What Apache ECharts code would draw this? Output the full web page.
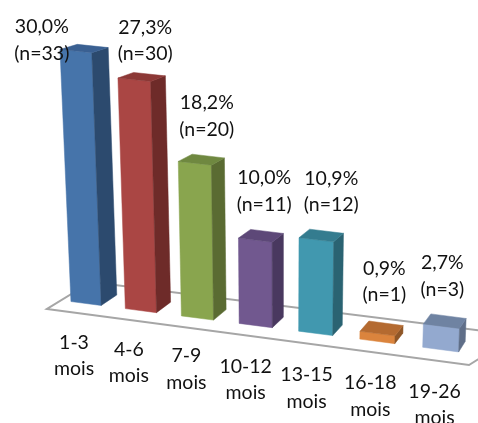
<!DOCTYPE html>
<html>
<head>
<meta charset="utf-8">
<style>html,body{margin:0;padding:0;background:#fff}#chart{width:478px;height:423px}</style>
<script src="https://cdn.jsdelivr.net/npm/echarts@6/dist/echarts.min.js"></script>
</head>
<body>
<div id="chart"></div>
<script>
const categories = ['1-3', '4-6', '7-9', '10-12', '13-15', '16-18', '19-26'];
const percents = [30.0, 27.3, 18.2, 10.0, 10.9, 0.9, 2.7];
const counts = [33, 30, 20, 11, 12, 1, 3];

// Front, side and top shades of each column
const frontColors = ['#4674AA', '#AA4644', '#89A54E', '#71588F', '#4198AF', '#DB843D', '#93A9CF'];
const sideColors = ['#2C4A6E', '#6E2B29', '#5A6B32', '#49385F', '#2A6372', '#8F5627', '#5F6E88'];
const topColors = ['#3A6092', '#8C3836', '#6F8840', '#5D4878', '#347C8F', '#B46A30', '#6F83A2'];

// Hand placement of the value captions relative to each column's top
const captionShift = [[-34, -11], [11, -39], [12, -47], [9, -49], [15, -48], [7, -52], [1, -50]];
// Hand placement of the category captions relative to each column's foot
const axisCaptionShift = [[-12, 52], [-12, 52], [-11, 51], [-10, 54], [-9, 55], [-7, 55], [-6, 55]];

// Flat plot area: one band per category, 8.5 px per percentage point
const BAND = 59.2, ORIGIN_X = 86, ORIGIN_Y = 303.5, PX_PER_UNIT = 8.5, Y_MAX = 35;
const HALF_BAR = 0.28;

// Floor of the 3D box
const floorFrame = [[47, 309], [469, 365], [517, 335], [91, 282]];

// Projects a point of the flat plot area into the tilted 3D view.
// depth 0 is the front plane of the columns, depth 1 their back plane.
function project(px, py, depth) {
  const u = (px - ORIGIN_X) / BAND;
  const h = ORIGIN_Y - py;
  const v = h / PX_PER_UNIT;
  const fx = ORIGIN_X + 54 * u + 0.85 * u * u;
  const fy = ORIGIN_Y + 0.13 * (fx - ORIGIN_X);
  const bx = fx + depth * (16 - 1.5 * u);
  return [
    bx + (bx - 280) * 0.00175 * v,
    fy + depth * (-10.5 + 0.18 * v) - h * (0.99 + 0.005 * u)
  ];
}

function face(points, fill) {
  return { type: 'polygon', shape: { points }, style: { fill, stroke: fill, lineWidth: 0.5 } };
}

function renderColumn(params, api) {
  const i = api.value(0);
  const value = api.value(1);
  const half = api.size([1, 0])[0] * HALF_BAR;
  const foot = api.coord([i, 0]);
  const head = api.coord([i, value]);
  const l = foot[0] - half, r = foot[0] + half;

  const frontBL = project(l, foot[1], 0), frontBR = project(r, foot[1], 0);
  const frontTL = project(l, head[1], 0), frontTR = project(r, head[1], 0);
  const backBR = project(r, foot[1], 1);
  const backTR = project(r, head[1], 1), backTL = project(l, head[1], 1);

  const anchorTop = project(foot[0], head[1], 0);
  const anchorFoot = project(foot[0], foot[1], 0);
  const textStyle = {
    fontFamily: 'Lato', fontSize: 19.5, fill: '#111111',
    align: 'center', verticalAlign: 'middle', lineHeight: 26.5
  };
  const caption = percents[i].toFixed(1).replace('.', ',') + '%\n(n=' + counts[i] + ')';

  return {
    type: 'group',
    children: [
      face([frontTL, frontTR, frontBR, frontBL], frontColors[i]),
      face([frontTR, backTR, backBR, frontBR], sideColors[i]),
      face([frontTL, backTL, backTR, frontTR], topColors[i]),
      {
        type: 'text', z2: 10,
        style: Object.assign({
          text: caption,
          x: anchorTop[0] + captionShift[i][0],
          y: anchorTop[1] + captionShift[i][1]
        }, textStyle)
      },
      {
        type: 'text', z2: 10,
        style: Object.assign({
          text: categories[i] + '\nmois',
          x: anchorFoot[0] + axisCaptionShift[i][0],
          y: anchorFoot[1] + axisCaptionShift[i][1]
        }, textStyle)
      }
    ]
  };
}

const chart = echarts.init(document.getElementById('chart'), null, { renderer: 'canvas' });
chart.setOption({
  animation: false,
  backgroundColor: '#ffffff',
  grid: {
    left: ORIGIN_X - BAND / 2,
    width: BAND * categories.length,
    top: ORIGIN_Y - PX_PER_UNIT * Y_MAX,
    height: PX_PER_UNIT * Y_MAX
  },
  xAxis: { type: 'category', data: categories, show: false },
  yAxis: { type: 'value', min: 0, max: Y_MAX, show: false },
  graphic: [{
    type: 'polygon', z: 0, silent: true,
    shape: { points: floorFrame },
    style: { fill: '#ffffff', stroke: '#a6a6a6', lineWidth: 2 }
  }],
  series: [{
    type: 'custom',
    z: 5,
    renderItem: renderColumn,
    encode: { x: 0, y: 1 },
    data: percents.map((p, i) => [i, p])
  }]
});
</script>
</body>
</html>
